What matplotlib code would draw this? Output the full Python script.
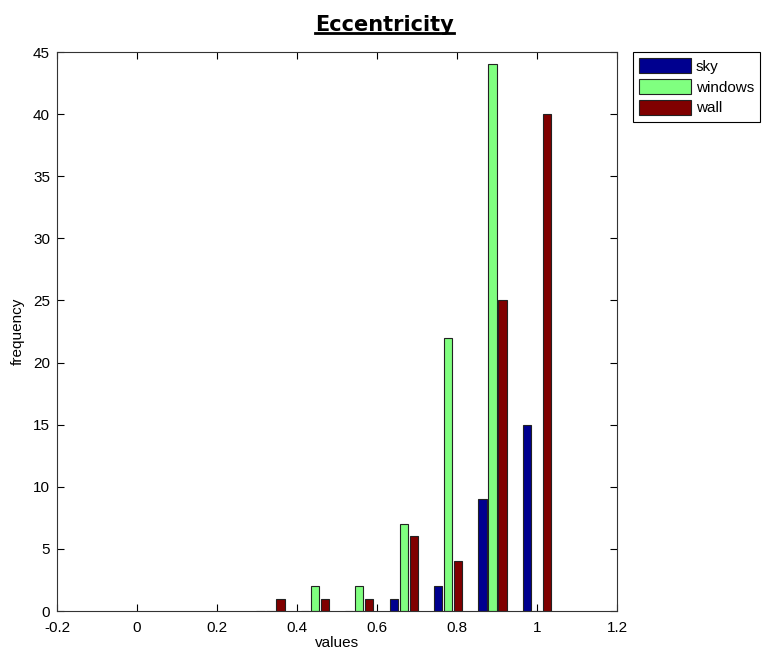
import numpy as np
import matplotlib
matplotlib.use("Agg")
from matplotlib import pyplot as plt
from matplotlib.lines import Line2D

# bin centres of the histogram (values axis)
centres = [0.3333, 0.4444, 0.5556, 0.6667, 0.7778, 0.8889, 1.0]
sky = [0, 0, 0, 1, 2, 9, 15]
windows = [0, 2, 2, 7, 22, 44, 0]
wall = [1, 1, 1, 6, 4, 25, 40]
series_names = ["sky", "windows", "wall"]
series_colors = ["#00008f", "#80ff80", "#800000"]

plt.rcParams['font.family'] = ['Liberation Sans', 'DejaVu Sans']

fig = plt.figure(figsize=(7.62, 6.51), dpi=100)
ax = fig.add_axes([0.0748, 0.0614, 0.735, 0.8587])

x = np.array(centres)
step = 0.025
width = 0.021
for i, (vals, name, col) in enumerate(zip([sky, windows, wall], series_names, series_colors)):
    ax.bar(x + (i - 1) * step, vals, width=width, color=col, edgecolor='#222222',
           linewidth=0.8, label=name, zorder=2)

ax.set_xlim(-0.2, 1.2)
ax.set_ylim(0, 45)
ax.set_xticks(np.arange(-0.2, 1.21, 0.2))
ax.set_xticklabels(['-0.2', '0', '0.2', '0.4', '0.6', '0.8', '1', '1.2'])
ax.set_yticks(np.arange(0, 46, 5))
ax.tick_params(direction='in', top=True, right=True, labelsize=11, length=5, width=0.8)
ax.tick_params(axis='x', pad=7)
ax.tick_params(axis='y', pad=5)
for s in ax.spines.values():
    s.set_linewidth(0.8)
    s.set_color('#333333')

ax.set_xlabel('values', fontsize=11, labelpad=1)
ax.set_ylabel('frequency', fontsize=11, labelpad=6)

leg = ax.legend(loc='upper left', bbox_to_anchor=(0.831, 0.920), bbox_transform=fig.transFigure,
                borderaxespad=0, fancybox=False, edgecolor='black', framealpha=1,
                fontsize=11, handlelength=3.4, handleheight=1.1, labelspacing=0.35,
                handletextpad=0.3, borderpad=0.4)
leg.get_frame().set_linewidth(0.8)

# title with underline
title = fig.text(0.505, 0.962, 'Eccentricity', ha='center', va='center', fontsize=15,
                 fontweight='bold', family=['Liberation Sans Narrow', 'DejaVu Sans'])
fig.canvas.draw()
bb = title.get_window_extent().transformed(fig.transFigure.inverted())
fig.add_artist(Line2D([bb.x0, bb.x1], [bb.y0 + 0.002, bb.y0 + 0.002], color='black',
                      linewidth=2, transform=fig.transFigure))

plt.savefig('out.png', dpi=100)
plt.close()
